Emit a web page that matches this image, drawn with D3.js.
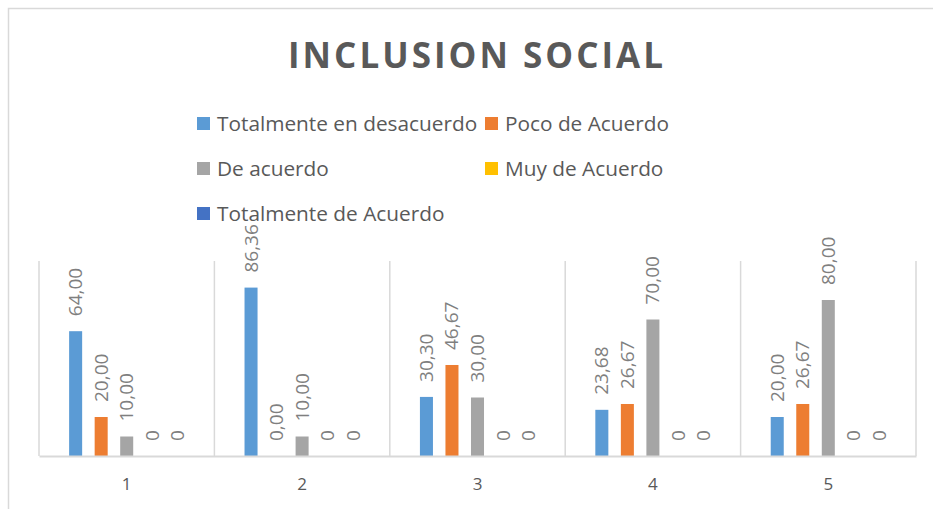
<!DOCTYPE html>
<html>
<head>
<meta charset="utf-8">
<script src="https://cdn.jsdelivr.net/npm/d3@7"></script>
<style>
  html, body { margin: 0; padding: 0; background: #fff; }
  svg { display: block; font-family: "Open Sans", sans-serif; }
</style>
</head>
<body>
<div id="chart"></div>
<script>
// data
const categories = ["1", "2", "3", "4", "5"]
const seriesNames = ["Totalmente en desacuerdo", "Poco de Acuerdo", "De acuerdo", "Muy de Acuerdo", "Totalmente de Acuerdo"]
const seriesColors = ["#5b9bd5", "#ed7d31", "#a5a5a5", "#ffc000", "#4472c4"]
const totalDesacuerdo = [64.00, 86.36, 30.30, 23.68, 20.00]
const pocoAcuerdo = [20.00, 0.00, 46.67, 26.67, 26.67]
const deAcuerdo = [10.00, 10.00, 30.00, 70.00, 80.00]
const muyAcuerdo = [0, 0, 0, 0, 0]
const totalAcuerdo = [0, 0, 0, 0, 0]
const labelDecimals = [2, 2, 2, 0, 0]   // the last two series show plain "0"
const yTicks = [0, 100]

const seriesValues = [totalDesacuerdo, pocoAcuerdo, deAcuerdo, muyAcuerdo, totalAcuerdo]

const width = 933
const height = 509
const plotLeft = 39
const plotRight = 916
const plotTop = 261
const plotBottom = 456

const svg = d3.select("#chart")
    .append("svg")
    .attr("width", width)
    .attr("height", height)
    .attr("viewBox", [0, 0, width, height])

// chart frame (runs off the right and bottom of the picture)
svg.append("rect")
    .attr("x", 8.5)
    .attr("y", 8.5)
    .attr("width", width + 20)
    .attr("height", height + 20)
    .attr("fill", "none")
    .attr("stroke", "#d9d9d9")
    .attr("stroke-width", 1.5)

// title
svg.append("text")
    .attr("x", 288)
    .attr("y", 67.5)
    .attr("textLength", 375)
    .attr("lengthAdjust", "spacing")
    .attr("fill", "#595959")
    .attr("font-size", 35)
    .attr("font-weight", "bold")
    .text("INCLUSION SOCIAL")

// legend
const legendPos = [[197, 123.5], [485, 123.5], [197, 168.5], [485, 168.5], [197, 213.5]]
const legend = svg.append("g")
    .selectAll("g")
    .data(seriesNames)
    .join("g")
    .attr("transform", (d, i) => `translate(${legendPos[i][0]},${legendPos[i][1]})`)

legend.append("rect")
    .attr("x", 0)
    .attr("y", -6.5)
    .attr("width", 13)
    .attr("height", 13)
    .attr("fill", (d, i) => seriesColors[i])

legend.append("text")
    .attr("x", 20)
    .attr("y", 7.5)
    .attr("fill", "#595959")
    .attr("font-size", 20.8)
    .text(d => d)

// scales
const x0 = d3.scaleBand(categories, [plotLeft, plotRight])
const x1 = d3.scaleBand(d3.range(seriesNames.length), [0, x0.bandwidth()])
    .paddingInner(0.49)
    .paddingOuter(1.18)
const y = d3.scaleLinear(d3.extent(yTicks), [plotBottom, plotTop])

// vertical separators between categories
const bounds = categories.map(c => x0(c)).concat([plotRight])
svg.append("g")
    .attr("stroke", "#d9d9d9")
    .attr("stroke-width", 1.5)
    .selectAll("line")
    .data(bounds)
    .join("line")
    .attr("x1", d => d)
    .attr("x2", d => d)
    .attr("y1", y(100))
    .attr("y2", y(0))

// bars
const cells = categories.flatMap((c, ci) => seriesValues.map((vals, si) => ({c, si, v: vals[ci]})))

const group = svg.append("g")
group.selectAll("rect")
    .data(cells.filter(d => d.v > 0))
    .join("rect")
    .attr("x", d => x0(d.c) + x1(d.si))
    .attr("y", d => y(d.v))
    .attr("width", x1.bandwidth())
    .attr("height", d => y(0) - y(d.v))
    .attr("fill", d => seriesColors[d.si])

// value labels, rotated
const fmt = (v, si) => v.toFixed(labelDecimals[si]).replace(".", ",")
group.selectAll("text")
    .data(cells)
    .join("text")
    .attr("transform", d => `translate(${x0(d.c) + x1(d.si) + x1.bandwidth() / 2 + 6.5},${y(d.v) - 15}) rotate(-90)`)
    .attr("fill", "#7f7f7f")
    .attr("font-size", 19)
    .text(d => fmt(d.v, d.si))

// x axis
const xAxis = d3.axisBottom(x0).tickSize(0).tickSizeOuter(0)
svg.append("g")
    .attr("transform", `translate(0,${plotBottom})`)
    .call(xAxis)
    .call(g => g.select(".domain").attr("stroke", "#d9d9d9").attr("stroke-width", 2))
    .call(g => g.selectAll(".tick text")
        .attr("y", 22)
        .attr("fill", "#595959")
        .attr("font-size", 17)
        .attr("font-family", "Open Sans, sans-serif"))
</script>
</body>
</html>
